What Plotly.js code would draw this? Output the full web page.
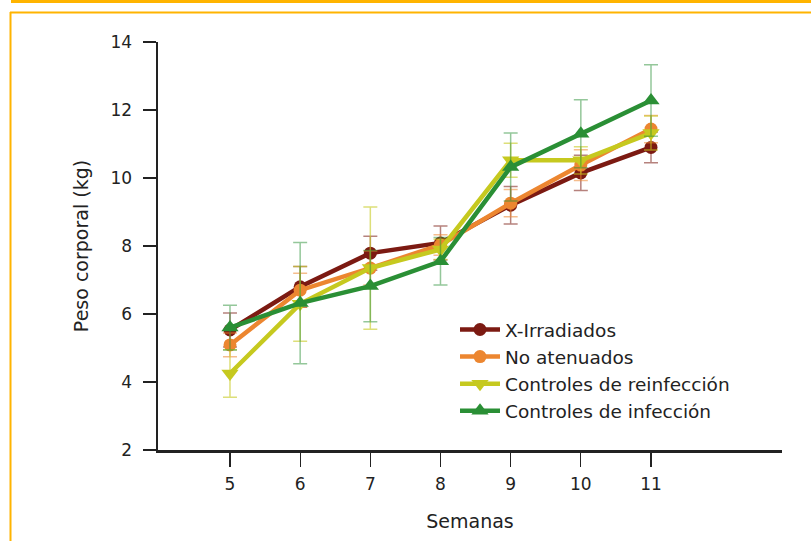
<!DOCTYPE html>
<html>
<head>
<meta charset="utf-8">
<script src="https://cdn.plot.ly/plotly-3.0.1.min.js"></script>
<style>
  html, body { margin: 0; padding: 0; background: #ffffff; }
  #chart { width: 811px; height: 541px; }
</style>
</head>
<body>
<div id="chart"></div>
<script>
// ---- Data ----
const weeks = [5, 6, 7, 8, 9, 10, 11];
const seriesNames = ["X-Irradiados", "No atenuados", "Controles de reinfección", "Controles de infección"];

const xIrradiados      = [5.53, 6.80, 7.79, 8.09, 9.20, 10.15, 10.90];
const xIrradiadosErr   = [0.50, 0.60, 0.50, 0.50, 0.55, 0.52, 0.45];

const noAtenuados      = [5.09, 6.70, 7.35, 8.03, 9.26, 10.38, 11.44];
const noAtenuadosErr   = [0.35, 0.50, 0.50, 0.30, 0.40, 0.45, 0.40];

const reinfeccion      = [4.25, 6.30, 7.35, 7.90, 10.52, 10.52, 11.32];
const reinfeccionErr   = [0.70, 1.10, 1.80, 0.30, 0.50, 0.40, 0.50];

const infeccion        = [5.60, 6.32, 6.82, 7.55, 10.32, 11.30, 12.28];
const infeccionErr     = [0.66, 1.78, 1.05, 0.70, 1.00, 1.00, 1.05];

const yTicks = [2, 4, 6, 8, 10, 12, 14];

// ---- Styling ----
const colors   = ["#7c1a12", "#ec8630", "#c6c91f", "#2a8f35"];
const errCols  = ["rgba(122,27,18,0.55)", "rgba(236,134,48,0.55)", "rgba(198,201,31,0.6)", "rgba(42,143,53,0.5)"];
const symbols  = ["circle", "circle", "triangle-down", "triangle-up"];
const sizes    = [13, 13, 15, 15];
const ys   = [xIrradiados, noAtenuados, reinfeccion, infeccion];
const errs = [xIrradiadosErr, noAtenuadosErr, reinfeccionErr, infeccionErr];

const traces = ys.map((y, i) => ({
  type: "scatter",
  mode: "lines+markers",
  name: seriesNames[i],
  x: weeks,
  y: y,
  line: { color: colors[i], width: 4.5 },
  marker: { color: colors[i], symbol: symbols[i], size: sizes[i] },
  error_y: { type: "data", array: errs[i], visible: true, color: errCols[i], thickness: 1.5, width: 7 }
}));

// plot area in pixels: x 158..782, y 42..450
const L = 158, R = 782, T = 42, B = 450, W = 811, H = 541;
const px = v => (v - L) / (R - L);
const py = v => (B - v) / (B - T);
const frameCol = "#ffb400";

const layout = {
  width: W, height: H,
  margin: { l: L, r: W - R, t: T, b: H - B, pad: 0 },
  paper_bgcolor: "#ffffff",
  plot_bgcolor: "#ffffff",
  font: { family: "DejaVu Sans, Verdana, sans-serif", color: "#222222", size: 17 },
  showlegend: true,
  legend: {
    x: px(455), y: py(311), xanchor: "left", yanchor: "top",
    bgcolor: "rgba(0,0,0,0)",
    font: { size: 18.5, color: "#222222" },
    itemwidth: 40,
    tracegroupgap: 0
  },
  xaxis: {
    range: [3.974, 12.867],
    tickvals: weeks,
    ticktext: weeks.map(String),
    showgrid: false, zeroline: false,
    showline: true, linecolor: "#222222", linewidth: 2.5,
    ticks: "outside", ticklen: 14, tickwidth: 1.2, tickcolor: "#222222",
    ticklabelstandoff: 3,
    title: { text: "Semanas", font: { size: 19 }, standoff: 22 }
  },
  yaxis: {
    range: [2, 14],
    tickvals: yTicks,
    ticktext: yTicks.map(String),
    showgrid: false, zeroline: false,
    showline: true, linecolor: "#222222", linewidth: 2.5,
    ticks: "outside", ticklen: 13, tickwidth: 1.2, tickcolor: "#222222",
    ticklabelstandoff: 7,
    title: { text: "Peso corporal (kg)", font: { size: 19 }, standoff: 17 }
  },
  shapes: [
    { type: "rect", xref: "paper", yref: "paper", x0: px(11), x1: px(811), y0: py(3), y1: py(0),
      fillcolor: frameCol, line: { width: 0 }, layer: "above" },
    { type: "line", xref: "paper", yref: "paper", x0: px(10), x1: px(811), y0: py(12.5), y1: py(12.5),
      line: { color: frameCol, width: 2 } },
    { type: "line", xref: "paper", yref: "paper", x0: px(10.5), x1: px(10.5), y0: py(12), y1: py(541),
      line: { color: frameCol, width: 2 } }
  ]
};

Plotly.newPlot("chart", traces, layout, { displayModeBar: false, staticPlot: true });
</script>
</body>
</html>
